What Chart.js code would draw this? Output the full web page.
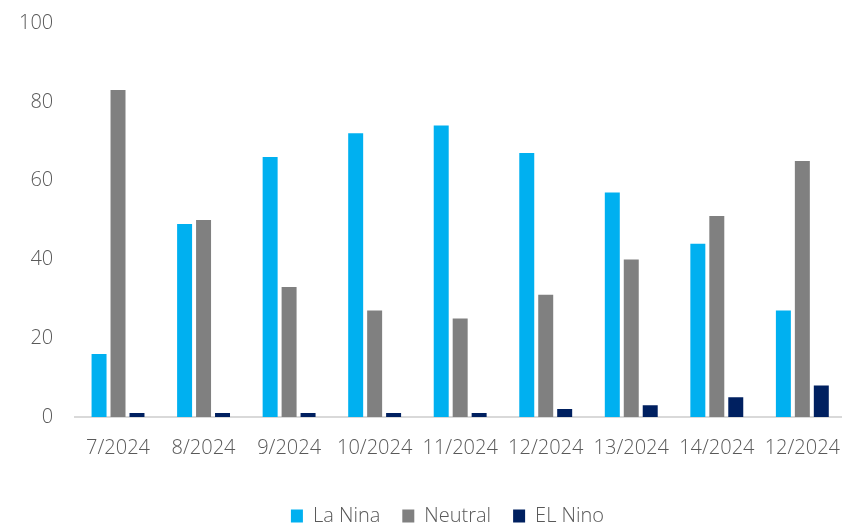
<!DOCTYPE html>
<html>
<head>
<meta charset="utf-8">
<script src="https://cdn.jsdelivr.net/npm/chart.js@4"></script>
<style>
    html, body { margin: 0; padding: 0; background: #fff; overflow: hidden; }
    #wrap { position: absolute; left: -11px; top: -3px; width: 862px; height: 528px; }
</style>
</head>
<body>
<div id="wrap"><canvas id="ensoChart"></canvas></div>
<script>
const months  = ['7/2024', '8/2024', '9/2024', '10/2024', '11/2024', '12/2024', '13/2024', '14/2024', '12/2024'];
const laNina  = [16, 49, 66, 72, 74, 67, 57, 44, 27];
const neutral = [83, 50, 33, 27, 25, 31, 40, 51, 65];
const elNino  = [1, 1, 1, 1, 1, 2, 3, 5, 8];
const yTicks  = [0, 20, 40, 60, 80, 100];

const TEXT = '#595959';
const FONT = "'Open Sans', 'Noto Sans', sans-serif";

// legend sits low and a bit right of the canvas centre
const legendNudge = {
    id: 'legendNudge',
    afterInit(chart) {
        const lg = chart.legend;
        const fit = lg.fit.bind(lg);
        lg.fit = function () { fit(); this.height -= 11; };
    },
    afterLayout(chart) {
        chart.legend.left += 39;
    }
};

new Chart(document.getElementById('ensoChart'), {
    type: 'bar',
    data: {
        labels: months,
        datasets: [
            { label: 'La Nina', data: laNina,  backgroundColor: '#00B0F0' },
            { label: 'Neutral', data: neutral, backgroundColor: '#808080' },
            { label: 'EL Nino', data: elNino,  backgroundColor: '#002060' },
        ]
    },
    plugins: [legendNudge],
    options: {
        responsive: true,
        maintainAspectRatio: false,
        animation: false,
        datasets: { bar: { categoryPercentage: 0.665, barPercentage: 0.79 } },
        layout: { padding: { top: 0, right: 0, left: 16, bottom: 0 } },
        plugins: {
            tooltip: { enabled: false },
            legend: {
                position: 'bottom',
                labels: { boxWidth: 12, boxHeight: 13, padding: 22, color: TEXT, font: { family: FONT, size: 20, weight: '300' } }
            }
        },
        scales: {
            x: {
                grid: { display: false },
                border: { color: '#d9d9d9', width: 2 },
                afterFit: axis => { axis.height += 13; },
                ticks: { color: TEXT, padding: 11, maxRotation: 0, autoSkip: false, font: { family: FONT, size: 20, weight: '300' } }
            },
            y: {
                min: 0, max: 100,
                afterBuildTicks: axis => { axis.ticks = yTicks.map(v => ({ value: v })); },
                grid: { display: false },
                border: { display: false },
                ticks: { color: TEXT, padding: 14, font: { family: FONT, size: 20, weight: '300' } }
            }
        }
    }
});
</script>
</body>
</html>
